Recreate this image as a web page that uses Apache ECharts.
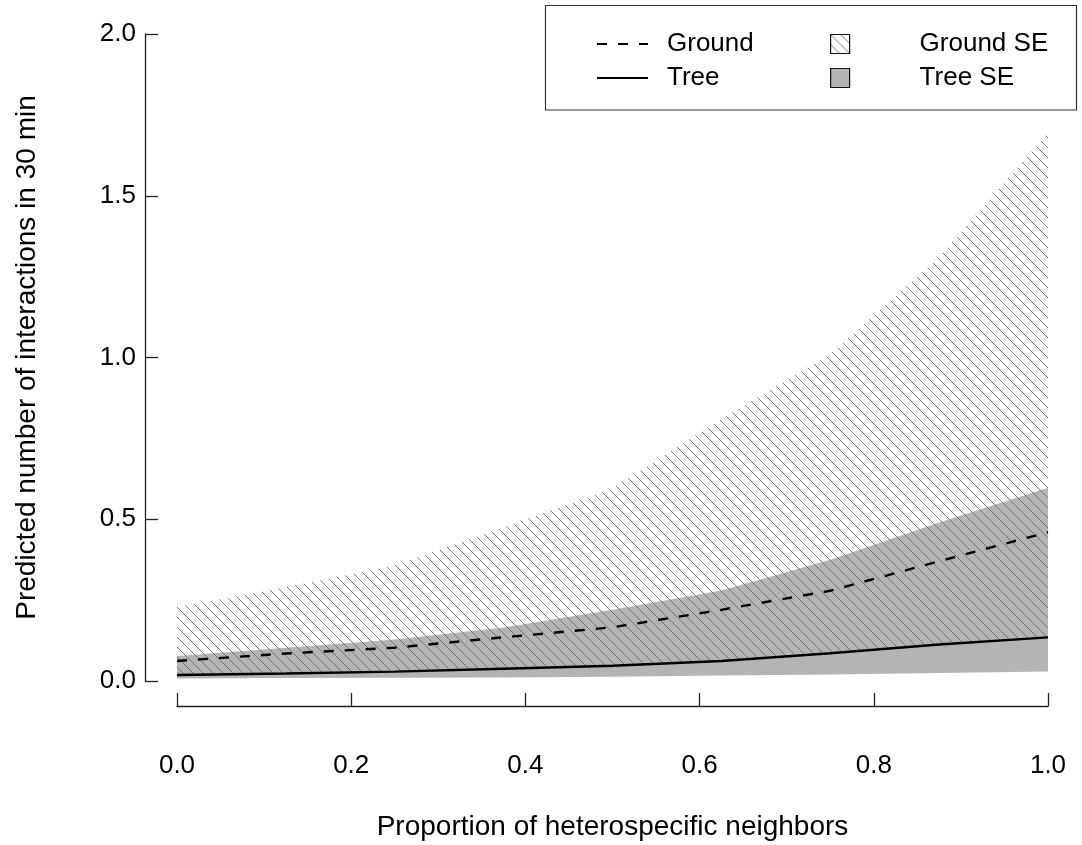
<!DOCTYPE html>
<html>
<head>
<meta charset="utf-8">
<script src="https://cdn.jsdelivr.net/npm/echarts@6/dist/echarts.min.js"></script>
<style>
  html, body { margin: 0; padding: 0; background: #ffffff; }
  #chart { width: 1082px; height: 845px; }
</style>
</head>
<body>
<div id="chart"></div>
<script>
// Predicted interactions against the proportion of heterospecific neighbours
const proportion  = [0, 0.125, 0.25, 0.375, 0.5, 0.625, 0.75, 0.875, 1];
const groundFit   = [0.062, 0.085, 0.103, 0.135, 0.166, 0.220, 0.279, 0.370, 0.460];
const groundLower = [0.017, 0.022, 0.028, 0.036, 0.045, 0.060, 0.083, 0.110, 0.133];
const groundUpper = [0.229, 0.290, 0.357, 0.475, 0.595, 0.810, 1.010, 1.310, 1.695];
const treeFit     = [0.0185, 0.023, 0.029, 0.038, 0.047, 0.062, 0.086, 0.113, 0.135];
const treeLower   = [0.008, 0.009, 0.010, 0.011, 0.013, 0.017, 0.020, 0.025, 0.029];
const treeUpper   = [0.077, 0.103, 0.128, 0.165, 0.220, 0.280, 0.375, 0.490, 0.597];
const xTicks = [0, 0.2, 0.4, 0.6, 0.8, 1];
const yTicks = [0, 0.5, 1, 1.5, 2];

const FONT = "'Liberation Sans', Arial, Helvetica, sans-serif";
const INK = '#000000';
const AXIS = '#222222';
const TREE_GREY = '#b4b4b4';

// Diagonal shading tile for the ground confidence band
function makeHatch() {
  const s = 10;
  const c = document.createElement('canvas');
  c.width = s; c.height = s;
  const g = c.getContext('2d');
  g.strokeStyle = '#747474';
  g.lineWidth = 1;
  g.beginPath();
  for (const off of [-s, 0, s]) {
    g.moveTo(off - 1, -1);
    g.lineTo(off + s + 1, s + 1);
  }
  g.stroke();
  return c;
}
const hatchFill = { image: makeHatch(), repeat: 'repeat' };

// Filled band between a lower and an upper curve, drawn as one polygon
function bandSeries(name, lower, upper, fill, z) {
  return {
    type: 'custom',
    name: name,
    z: z,
    silent: true,
    clip: true,
    data: proportion.map((p, i) => [p, lower[i], upper[i]]),
    encode: { x: 0, y: [1, 2] },
    renderItem: function (params, api) {
      if (params.dataIndex !== 0) return null;
      const top = [], bottom = [];
      for (let i = 0; i < proportion.length; i++) {
        top.push(api.coord([proportion[i], upper[i]]));
        bottom.push(api.coord([proportion[i], lower[i]]));
      }
      return {
        type: 'polygon',
        shape: { points: top.concat(bottom.reverse()) },
        style: { fill: fill, stroke: null }
      };
    }
  };
}

function lineSeries(name, values, dashed, z) {
  return {
    type: 'line',
    name: name,
    z: z,
    silent: true,
    symbol: 'none',
    showSymbol: false,
    animation: false,
    data: proportion.map((p, i) => [p, values[i]]),
    lineStyle: {
      color: INK,
      width: 2.4,
      type: dashed ? [10, 11] : 'solid',
      cap: 'butt'
    },
    itemStyle: { color: INK }
  };
}

const tickText = { color: INK, fontFamily: FONT, fontSize: 26 };
const titleText = { color: INK, fontFamily: FONT, fontSize: 28 };
const hiddenMarker = { color: 'rgba(0,0,0,0)', borderColor: 'rgba(0,0,0,0)', borderWidth: 0, opacity: 0 };

const chart = echarts.init(document.getElementById('chart'), null, { renderer: 'canvas' });
chart.setOption({
  backgroundColor: '#ffffff',
  animation: false,
  grid: { left: 177, top: 34, width: 871, height: 647, containLabel: false, outerBoundsMode: 'none' },
  xAxis: {
    type: 'value',
    min: xTicks[0],
    max: xTicks[xTicks.length - 1],
    interval: 0.2,
    offset: 25,
    name: 'Proportion of heterospecific neighbors',
    nameLocation: 'middle',
    nameGap: 107,
    nameTextStyle: titleText,
    axisLine: { show: true, onZero: false, lineStyle: { color: AXIS, width: 1.3 } },
    axisTick: { show: true, inside: true, length: 13, lineStyle: { color: AXIS, width: 1.3 } },
    axisLabel: Object.assign({ margin: 47, formatter: v => v.toFixed(1), showMinLabel: true, showMaxLabel: true }, tickText),
    splitLine: { show: false }
  },
  yAxis: {
    type: 'value',
    min: yTicks[0],
    max: yTicks[yTicks.length - 1],
    interval: 0.5,
    offset: 32,
    name: 'Predicted number of interactions in 30 min',
    nameLocation: 'middle',
    nameGap: 104,
    nameTextStyle: titleText,
    axisLine: { show: true, onZero: false, lineStyle: { color: AXIS, width: 1.3 } },
    axisTick: { show: true, inside: true, length: 13, lineStyle: { color: AXIS, width: 1.3 } },
    axisLabel: Object.assign({ margin: 9, formatter: v => v.toFixed(1), showMinLabel: true, showMaxLabel: true }, tickText),
    splitLine: { show: false }
  },
  legend: [
    {
      left: 591, top: 26, orient: 'vertical',
      itemWidth: 51, itemHeight: 19, itemGap: 8,
      selectedMode: false,
      data: [
        { name: 'Ground', itemStyle: hiddenMarker },
        { name: 'Tree', itemStyle: hiddenMarker }
      ],
      textStyle: Object.assign({ padding: [0, 0, 0, 14] }, tickText)
    },
    {
      left: 825, top: 26, orient: 'vertical',
      itemWidth: 19, itemHeight: 19, itemGap: 8,
      selectedMode: false,
      data: [
        { name: 'Ground SE', icon: 'rect', itemStyle: { color: hatchFill, borderColor: '#111', borderWidth: 1.2 } },
        { name: 'Tree SE', icon: 'rect', itemStyle: { color: TREE_GREY, borderColor: '#111', borderWidth: 1.2 } }
      ],
      textStyle: Object.assign({ padding: [0, 0, 0, 65] }, tickText)
    }
  ],
  graphic: [
    {
      type: 'rect',
      silent: true,
      z: 100,
      shape: { x: 545.5, y: 5.5, width: 531, height: 104.5 },
      style: { fill: null, stroke: '#333333', lineWidth: 1.2 }
    }
  ],
  series: [
    bandSeries('Tree SE', treeLower, treeUpper, TREE_GREY, 1),
    bandSeries('Ground SE', groundLower, groundUpper, hatchFill, 2),
    lineSeries('Ground', groundFit, true, 5),
    lineSeries('Tree', treeFit, false, 5)
  ]
});
</script>
</body>
</html>
